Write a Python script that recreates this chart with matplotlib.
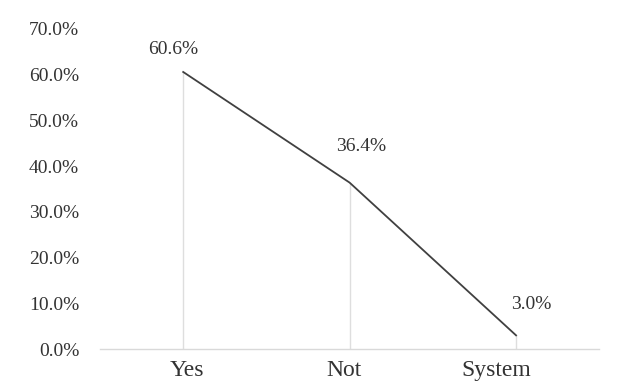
import matplotlib
matplotlib.use("Agg")
import matplotlib.pyplot as plt
from matplotlib.ticker import FuncFormatter
from matplotlib.transforms import ScaledTranslation

categories = ["Yes", "Not", "System"]
shares = [60.6, 36.4, 3.0]
y_ticks = [0, 10, 20, 30, 40, 50, 60, 70]
# label offsets (points) from each data point
label_dx = [-7, 8, 11]
label_dy = [16, 26, 22]
# small horizontal shifts of category labels (points)
cat_dx = [3, -4, -14]

plt.rcParams['font.family'] = ['Liberation Serif', 'DejaVu Serif']
text_color = '#333333'

fig = plt.figure(figsize=(6.21, 3.84), dpi=100, facecolor='w')
ax = fig.add_axes([0.161, 0.091, 0.804, 0.8335])

x = list(range(len(categories)))
ax.vlines(x, 0, shares, colors='#dedede', linewidth=1.0, zorder=1)
ax.plot(x, shares, color='#404040', linewidth=1.3, zorder=2)

for xi, v, dx, dy in zip(x, shares, label_dx, label_dy):
    ax.annotate(f"{v:.1f}%", (xi, v), xytext=(dx, dy), textcoords='offset points',
                ha='center', va='center', fontsize=14, color=text_color)

ax.set_xlim(-0.5, len(categories) - 0.5)
ax.set_ylim(0, 70)
ax.set_yticks(y_ticks)
ax.yaxis.set_major_formatter(FuncFormatter(lambda v, p: f"{v:.1f}%"))
ax.set_xticks(x)
ax.set_xticklabels(categories)

for s in ['top', 'right', 'left']:
    ax.spines[s].set_visible(False)
ax.spines['bottom'].set_color('#d9d9d9')
ax.spines['bottom'].set_linewidth(1.0)
ax.tick_params(axis='y', length=0, pad=15, labelsize=14, labelcolor=text_color)
ax.tick_params(axis='x', length=0, pad=8, labelsize=17, labelcolor=text_color)

for lbl, d in zip(ax.get_xticklabels(), cat_dx):
    lbl.set_transform(lbl.get_transform() + ScaledTranslation(d / 72, 0, fig.dpi_scale_trans))

fig.savefig('out.png', dpi=100, facecolor='w')
